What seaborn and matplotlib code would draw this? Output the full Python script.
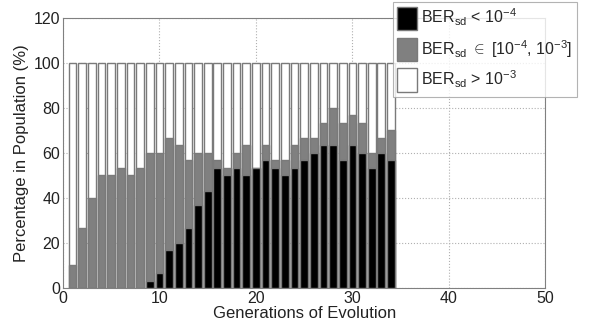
import matplotlib
matplotlib.use("Agg")
import matplotlib.pyplot as plt
import seaborn as sns
import pandas as pd
from matplotlib.patches import Patch

generations = list(range(1, 35))
# cumulative tops of each stacked segment (%)
black_top = [0, 0, 0, 0, 0, 0, 0, 0, 3.3, 6.7, 16.7, 20, 26.7, 36.7, 43.3, 53.3, 50,
             53.3, 50, 53.3, 56.7, 53.3, 50, 53.3, 56.7, 60, 63.3, 63.3, 56.7, 63.3,
             60, 53.3, 60, 56.7]
gray_top = [10, 26.7, 40, 50, 50, 53.3, 50, 53.3, 60, 60, 66.7, 63.3, 56.7, 60, 60, 56.7, 53.3,
            60, 63.3, 53.3, 63.3, 56.7, 56.7, 63.3, 66.7, 66.7, 73.3, 80, 73.3, 76.7,
            73.3, 60, 66.7, 70]
white_top = [100] * 34
legend_labels = [r"BER$_{\mathrm{sd}}$ < 10$^{-4}$",
                 r"BER$_{\mathrm{sd}}$ $\in$ [10$^{-4}$, 10$^{-3}$]",
                 r"BER$_{\mathrm{sd}}$ > 10$^{-3}$"]

df = pd.DataFrame({"gen": generations, "black": black_top, "gray": gray_top, "white": white_top})

sns.set_style("white")
plt.rcParams["font.family"] = ["Liberation Sans", "DejaVu Sans"]
plt.rcParams["mathtext.fontset"] = "custom"
plt.rcParams["mathtext.rm"] = "Liberation Sans"
plt.rcParams["mathtext.it"] = "Liberation Sans:italic"
plt.rcParams["mathtext.bf"] = "Liberation Sans:bold"

fig = plt.figure(figsize=(5.94, 3.31), dpi=100)
ax = fig.add_axes([0.106, 0.130, 0.812, 0.816])

edge = "#7a7a7a"
sns.barplot(data=df, x="gen", y="white", native_scale=True, width=0.8, color="white",
            edgecolor=edge, linewidth=1.0, saturation=1, ax=ax, zorder=2)
sns.barplot(data=df, x="gen", y="gray", native_scale=True, width=0.8, color="#808080",
            edgecolor=edge, linewidth=1.0, saturation=1, ax=ax, zorder=3)
sns.barplot(data=df, x="gen", y="black", native_scale=True, width=0.8, color="black",
            edgecolor=edge, linewidth=1.0, saturation=1, ax=ax, zorder=4)

ax.set_xlim(0, 50)
ax.set_ylim(0, 120)
ax.set_xticks([0, 10, 20, 30, 40, 50])
ax.set_yticks([0, 20, 40, 60, 80, 100, 120])
ax.tick_params(direction="in", length=3, labelsize=11.5, colors="#222222", pad=2)
ax.grid(True, linestyle=":", color="#b0b0b0", linewidth=0.8)
ax.set_axisbelow(True)
for s in ax.spines.values():
    s.set_color("#808080")
    s.set_linewidth(0.8)
ax.set_xlabel("Generations of Evolution", fontsize=12, labelpad=0, color="#222222")
ax.set_ylabel("Percentage in Population (%)", fontsize=12, labelpad=3, color="#222222")

handles = [Patch(facecolor="black", edgecolor=edge),
           Patch(facecolor="#808080", edgecolor=edge),
           Patch(facecolor="white", edgecolor=edge)]
leg = fig.legend(handles, legend_labels, loc="upper right", bbox_to_anchor=(0.972, 0.994),
                 fontsize=11.5, frameon=True, fancybox=False, edgecolor="#a0a0a0",
                 handlelength=1.25, handleheight=1.9, handletextpad=0.25,
                 labelspacing=0.45, borderpad=0.3, borderaxespad=0.0)
leg.get_frame().set_linewidth(0.8)

fig.savefig("out.png", dpi=100)
